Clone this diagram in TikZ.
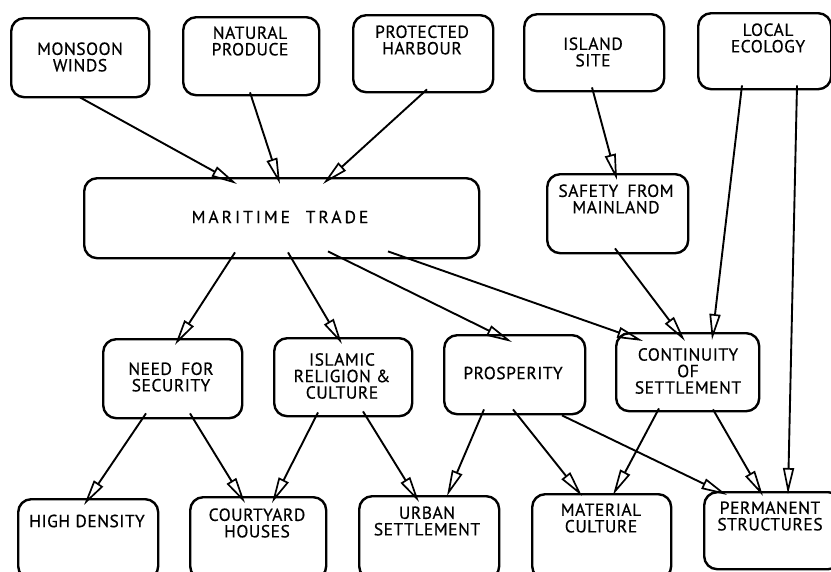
\documentclass[tikz,border=0pt]{standalone}
\usepackage{fontspec}
\setmainfont{PT Sans}
\usetikzlibrary{arrows.meta,calc}
\begin{document}
\begin{tikzpicture}[x=1pt,y=-1pt,
  box/.style={draw, line width=2.4pt, rounded corners=13pt, inner sep=0pt},
  lbl/.style={align=center, font=\fontsize{17.5}{16.5}\selectfont\addfontfeature{LetterSpace=3,FakeBold=0.5}, inner sep=0pt},
  arr/.style={line width=1.9pt, -{Triangle[open, length=26pt, width=11pt, line width=1.7pt]}}]
\useasboundingbox (0,0) rectangle (831,571);
\clip (0,0) rectangle (831,571);
\fill[white] (0,0) rectangle (831,571);
\newcommand\mybox[5]{\node[box, minimum width={#4-#2}, minimum height={#5-#3}, anchor=north west] (#1) at (#2,#3) {};}
% boxes
\mybox{mon}{10}{17}{148}{96}
\mybox{nat}{182}{16}{318}{94}
\mybox{pro}{352}{14}{492}{91}
\mybox{isl}{523}{13}{663}{90}
\mybox{loc}{697}{12}{830}{88}
\mybox{mar}{83}{177}{478}{257}
\mybox{saf}{546}{173}{687}{252}
\mybox{need}{102}{338}{241}{417}
\mybox{islam}{273}{337}{411}{415}
\mybox{pros}{443}{334}{584}{413}
\mybox{cont}{615}{332}{758}{410}
\mybox{high}{17}{498}{157}{578}
\mybox{court}{189}{496}{325}{578}
\mybox{urb}{358}{495}{498}{578}
\mybox{mat}{531}{493}{670}{578}
\mybox{perm}{703}{491}{840}{568}
% labels
\node[lbl] (mon-t) at (80,57) {MONSOON\\WINDS};
\node[lbl] (nat-t) at (250,41) {NATURAL\\PRODUCE};
\node[lbl] (pro-t) at (422,40) {PROTECTED\\HARBOUR};
\node[lbl] (isl-t) at (593,52) {ISLAND\\SITE};
\node[lbl] (loc-t) at (768,38) {LOCAL\\ECOLOGY};
\node[lbl, font=\fontsize{17.5}{16.5}\selectfont\addfontfeature{LetterSpace=17,FakeBold=0.5}] (mar-t) at (280,217) {MARITIME\hspace{8pt} TRADE};
\node[lbl] (saf-t) at (616,199) {SAFETY\hspace{4pt} FROM\\MAINLAND};
\node[lbl] (need-t) at (171,377) {NEED\hspace{4pt} FOR\\SECURITY};
\node[lbl] (islam-t) at (342,376) {ISLAMIC\\RELIGION \&\\CULTURE};
\node[lbl] (pros-t) at (513,373) {PROSPERITY};
\node[lbl] (cont-t) at (688,371) {CONTINUITY\\OF\\SETTLEMENT};
\node[lbl] (high-t) at (87,521) {HIGH DENSITY};
\node[lbl] (court-t) at (257,523) {COURTYARD\\HOUSES};
\node[lbl] (urb-t) at (427,521) {URBAN\\SETTLEMENT};
\node[lbl] (mat-t) at (601,518) {MATERIAL\\CULTURE};
\node[lbl] (perm-t) at (770,516) {PERMANENT\\STRUCTURES};
% connectors
\draw[arr] ($(mon.south west)+(70,-1)$) -- ($(mar.north west)+(154,7)$);
\draw[arr] ($(nat.south west)+(68,-4)$) -- ($(mar.north west)+(197,7)$);
\draw[arr] ($(pro.south west)+(75,-4)$) -- ($(mar.north west)+(240,7)$);
\draw[arr] ($(isl.south west)+(69,-5)$) -- ($(saf.north west)+(71,7)$);
\draw[arr] ($(loc.south west)+(45,-5)$) -- ($(cont.north west)+(97,8)$);
\draw[arr] ($(loc.south west)+(100,-5)$) -- ($(perm.north west)+(85,3)$);
\draw[arr] ($(saf.south west)+(69,-6)$) -- ($(cont.north west)+(70,9)$);
\draw[arr] ($(mar.south west)+(305,-8)$) -- ($(cont.north west)+(28,9)$);
\draw[arr] ($(mar.south west)+(245,-8)$) -- ($(pros.north west)+(69,8)$);
\draw[arr] ($(mar.south west)+(205,-7)$) -- ($(islam.north west)+(69,7)$);
\draw[arr] ($(mar.south west)+(152,-7)$) -- ($(need.north west)+(73,7)$);
\draw[arr] ($(need.south west)+(44,-6)$) -- ($(high.north west)+(67,7)$);
\draw[arr] ($(need.south west)+(88,-6)$) -- ($(court.north west)+(56,7)$);
\draw[arr] ($(islam.south west)+(45,-5)$) -- ($(court.north west)+(83,7)$);
\draw[arr] ($(islam.south west)+(90,-6)$) -- ($(urb.north west)+(61,7)$);
\draw[arr] ($(pros.south west)+(41,-6)$) -- ($(urb.north west)+(89,1)$);
\draw[arr] ($(pros.south west)+(70,-6)$) -- ($(mat.north west)+(51,3)$);
\draw[arr] ($(pros.south west)+(119,0)$) -- ($(perm.north west)+(24,4)$);
\draw[arr] ($(cont.south west)+(44,-4)$) -- ($(mat.north west)+(82,2)$);
\draw[arr] ($(cont.south west)+(98,-3)$) -- ($(perm.north west)+(60,5)$);
\end{tikzpicture}
\end{document}
